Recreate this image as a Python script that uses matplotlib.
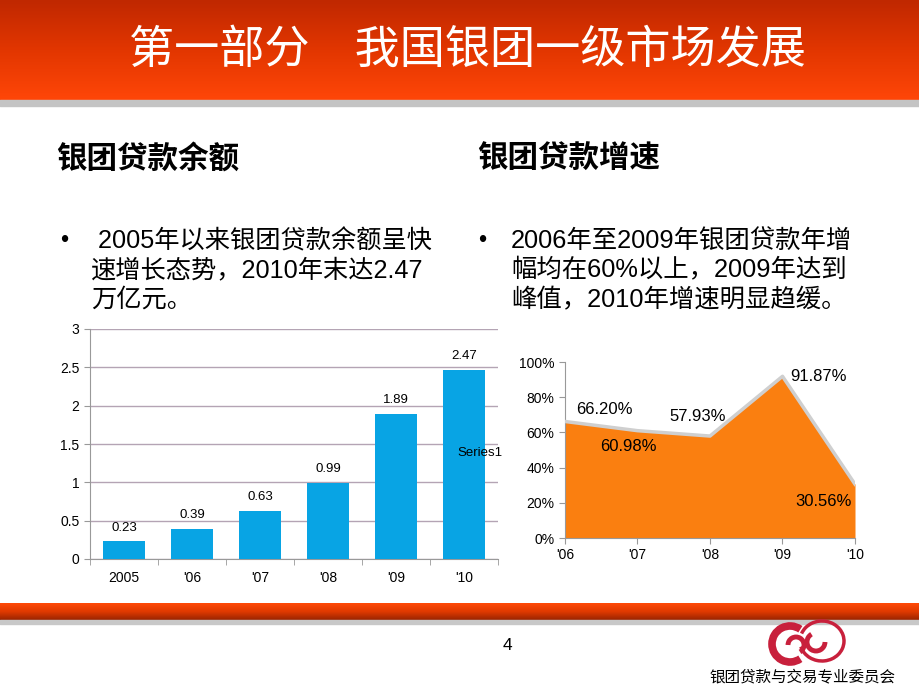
import matplotlib.pyplot as plt
import numpy as np
from matplotlib.colors import LinearSegmentedColormap
from matplotlib.patches import Arc

plt.rcParams['font.family'] = ['Liberation Sans', 'Noto Sans CJK SC', 'DejaVu Sans']

# ---------- data ---------- #
bar_years = ['2005', "'06", "'07", "'08", "'09", "'10"]
bar_vals = [0.23, 0.39, 0.63, 0.99, 1.89, 2.47]

growth_years = ["'06", "'07", "'08", "'09", "'10"]
growth_vals = [66.20, 60.98, 57.93, 91.87, 30.56]
growth_labels = ['66.20%', '60.98%', '57.93%', '91.87%', '30.56%']
# label positions (category, percent) as placed in the source chart
growth_label_pos = [(0.54, 73), (0.88, 52), (1.83, 69), (3.5, 92), (3.56, 20.5)]

title = '第一部分　我国银团一级市场发展'
head_left = '银团贷款余额'
head_right = '银团贷款增速'
text_left = [' 2005年以来银团贷款余额呈快', '速增长态势，2010年末达2.47', '万亿元。']
text_right = ['2006年至2009年银团贷款年增', '幅均在60%以上，2009年达到', '峰值，2010年增速明显趋缓。']

W, H = 920, 690
fig = plt.figure(figsize=(W / 100, H / 100), dpi=100)

# ---------- slide background ---------- #
bg = fig.add_axes([0, 0, 1, 1])
bg.set_xlim(0, W)
bg.set_ylim(H, 0)
bg.axis('off')

top_cmap = LinearSegmentedColormap.from_list('top', ['#c02800', '#e23600', '#ff4608'])
grad = np.linspace(0, 1, 100).reshape(-1, 1)
bg.imshow(grad, cmap=top_cmap, extent=[0, W, 100, 0], aspect='auto', zorder=1)
bg.fill_between([0, W], 100, 106, color='#c4c4c4', zorder=1)

bot_cmap = LinearSegmentedColormap.from_list('bot', ['#ff4a08', '#e03a00', '#9a2400'])
grad2 = np.linspace(0, 1, 50).reshape(-1, 1)
bg.imshow(grad2, cmap=bot_cmap, extent=[0, W, 620, 603], aspect='auto', zorder=1)
bg.fill_between([0, W], 620, 624, color='#c8c8c8', zorder=1)

bg.text(467, 50, title, color='white', fontsize=32.5, ha='center', va='center',
        family=['Noto Sans CJK SC'], zorder=3)

bg.text(56, 160, head_left, fontsize=22, fontweight='bold', ha='left', va='center', zorder=3)
bg.text(477, 160, head_right, fontsize=22, fontweight='bold', ha='left', va='center', zorder=3)

bg.text(60, 241, '•', fontsize=17, ha='left', va='center', zorder=3)
for i, line in enumerate(text_left):
    bg.text(91, 241 + i * 29.5, line, fontsize=18.2, ha='left', va='center', zorder=3)
bg.text(478, 241, '•', fontsize=17, ha='left', va='center', zorder=3)
for i, line in enumerate(text_right):
    bg.text(511, 241 + i * 29.5, line, fontsize=18.3, ha='left', va='center', zorder=3)

# page number and logo
bg.text(507, 645, '4', fontsize=12.5, ha='center', va='center', zorder=3)
red = '#c8203c'
bg.add_patch(Arc((790, 644), 36, 36, theta1=55, theta2=305, lw=5.5, color=red, zorder=3))
bg.add_patch(Arc((822, 641), 44, 40, theta1=-160, theta2=165, lw=2.5, color=red, zorder=3))
bg.add_patch(Arc((796, 645), 16, 16, theta1=180, theta2=60, lw=3.5, color=red, zorder=3))
bg.add_patch(Arc((816, 642), 18, 18, theta1=0, theta2=240, lw=3.5, color=red, zorder=3))
bg.text(803, 677, '银团贷款与交易专业委员会', fontsize=11.2, ha='center', va='center',
        family=['Noto Sans CJK SC'], zorder=3)

# ---------- left chart: loan balance ---------- #
ax1 = fig.add_axes([90 / W, 1 - 559 / H, 408 / W, 230 / H])
x1 = np.arange(len(bar_vals))
ax1.bar(x1, bar_vals, width=0.62, color='#08a4e4', zorder=3)
for xi, v in zip(x1, bar_vals):
    ax1.text(xi, v + 0.1, f'{v:.2f}', ha='center', va='bottom', fontsize=9.5)
ax1.text(5.24, 1.38, 'Series1', ha='center', va='center', fontsize=9.5, zorder=4)
ax1.set_xlim(-0.5, len(bar_vals) - 0.5)
ax1.set_ylim(0, 3)
ax1.set_yticks(np.arange(0, 3.01, 0.5))
ax1.set_yticklabels(['0', '0.5', '1', '1.5', '2', '2.5', '3'])
ax1.set_xticks(x1)
ax1.set_xticklabels(bar_years)
ax1.set_xticks(np.arange(-0.5, len(bar_vals)), minor=True)
ax1.tick_params(axis='x', which='major', length=0, labelsize=10, pad=9)
ax1.tick_params(axis='x', which='minor', length=4, color='#999999')
ax1.tick_params(axis='y', length=4, color='#999999', labelsize=10)
ax1.grid(axis='y', color='#b4a4b4', lw=1, zorder=0)
for s in ['top', 'right']:
    ax1.spines[s].set_visible(False)
for s in ['left', 'bottom']:
    ax1.spines[s].set_color('#999999')
ax1.patch.set_alpha(0)

# ---------- right chart: loan growth ---------- #
ax2 = fig.add_axes([565 / W, 1 - 538 / H, 290 / W, 176 / H])
x2 = np.arange(len(growth_vals))
ax2.fill_between(x2, 0, growth_vals, color='#fa7f10', lw=0, zorder=2)
ax2.plot(x2, growth_vals, color='#cfcfcf', lw=2.5, zorder=3)
for (px, py), lab in zip(growth_label_pos, growth_labels):
    ax2.text(px, py, lab, ha='center', va='center', fontsize=12, zorder=4)
ax2.set_xlim(0, len(growth_vals) - 1)
ax2.set_ylim(0, 100)
ax2.set_yticks(np.arange(0, 101, 20))
ax2.set_yticklabels([f'{v}%' for v in range(0, 101, 20)])
ax2.set_xticks(x2)
ax2.set_xticklabels(growth_years)
ax2.tick_params(axis='x', length=4, color='#999999', labelsize=10)
ax2.tick_params(axis='y', length=4, color='#999999', labelsize=10)
for s in ['top', 'right']:
    ax2.spines[s].set_visible(False)
for s in ['left', 'bottom']:
    ax2.spines[s].set_color('#999999')
ax2.patch.set_alpha(0)

fig.savefig('out.png', dpi=100)
